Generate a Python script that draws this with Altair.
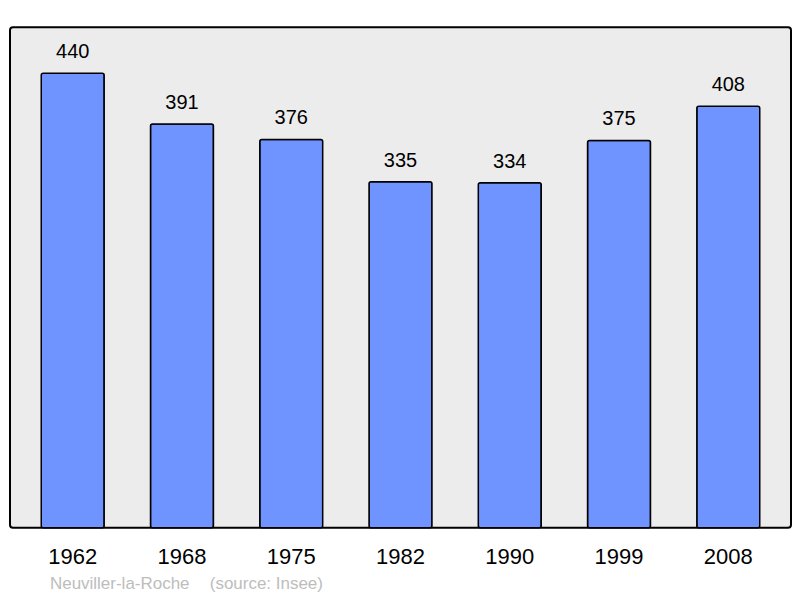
import altair as alt
import pandas as pd

years = ["1962", "1968", "1975", "1982", "1990", "1999", "2008"]
population = [440, 391, 376, 335, 334, 375, 408]
commune = ["Neuviller-la-Roche"]
source = ["(source: Insee)"]

df = pd.DataFrame({"year": years, "pop": population})

x = alt.X("year:N", sort=years, title=None,
          scale=alt.Scale(paddingInner=0.424, paddingOuter=0.286),
          axis=alt.Axis(labelAngle=0, labelFontSize=22, labelFont="Liberation Sans",
                        labelColor="black", ticks=False, domain=False, grid=False,
                        labelBaseline="alphabetic", labelPadding=36))
y = alt.Y("pop:Q", title=None, scale=alt.Scale(domain=[0, 484.5], nice=False, zero=True),
          axis=None)

bars = alt.Chart(df).mark_bar(color="#7094ff", stroke="black", strokeWidth=1.5,
                              cornerRadius=2).encode(x=x, y=y)
labels = alt.Chart(df).mark_text(baseline="alphabetic", dy=-15, fontSize=20,
                                 font="Liberation Sans", color="black").encode(
    x=x, y=y, text="pop:Q")

foot1 = alt.Chart(pd.DataFrame({"t": commune})).mark_text(
    align="left", baseline="alphabetic", fontSize=17, font="Liberation Sans",
    color="#bdbdbd").encode(text="t:N", x=alt.value(40), y=alt.value(562))
foot2 = alt.Chart(pd.DataFrame({"t": source})).mark_text(
    align="left", baseline="alphabetic", fontSize=17, font="Liberation Sans",
    color="#bdbdbd").encode(text="t:N", x=alt.value(200), y=alt.value(562))

chart = alt.layer(bars, labels, foot1, foot2).properties(
    width=782, height=501,
    autosize=alt.AutoSizeParams(type="none"),
    padding={"left": 2, "top": 19, "right": 1, "bottom": 70},
    background="white",
).configure_view(
    fill="#ececec", stroke="black", strokeWidth=2, cornerRadius=3
)

chart.save("out.html", embed_options={"renderer": "svg", "actions": False})
